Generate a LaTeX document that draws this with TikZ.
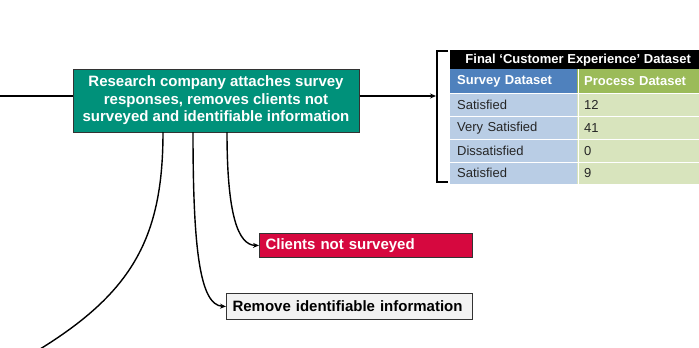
\documentclass[tikz,border=0pt]{standalone}
\usepackage{fontspec}
\setmainfont{Liberation Sans}
\usetikzlibrary{arrows.meta}
\definecolor{tealbox}{HTML}{00917A}
\definecolor{crim}{HTML}{D6083F}
\definecolor{hblue}{HTML}{4F81BD}
\definecolor{hgreen}{HTML}{9BBB59}
\definecolor{lblue}{HTML}{B9CDE5}
\definecolor{lgreen}{HTML}{D8E4BD}
\definecolor{lgray}{HTML}{F2F2F2}
\begin{document}
\begin{tikzpicture}[x=1pt,y=-1pt,
  conn/.style={line width=1.4pt},
  arr/.style={conn,-{Stealth[length=6pt,width=5pt]}},
  mainbox/.style={draw=black!80,line width=1pt,fill=tealbox,text=white,align=center,
    font=\bfseries\fontsize{15}{17.5}\selectfont,inner sep=0pt,
    minimum width=286pt,minimum height=63pt},
  sidebox/.style={draw=black!80,line width=1pt,anchor=north west,inner xsep=6pt,inner ysep=0pt,
    font=\bfseries\fontsize{15}{18}\selectfont,minimum height=25pt,align=left},
  cell/.style={anchor=north west,inner sep=0pt,minimum height=23pt,text width=114pt,
    inner xsep=7pt,align=left,font=\fontsize{13}{15}\selectfont,text=black!85},
]
\clip (0,0) rectangle (699,348);
\useasboundingbox (0,0) rectangle (699,348);

% main box
\node[mainbox] (main) at (216,100.5) {Research company attaches survey\\responses, removes clients not\\surveyed and identifiable information};

% side boxes
\node[sidebox,fill=crim,text=white,minimum height=24pt,text width=201pt] (clients) at (259,233) {Clients not surveyed};
\node[sidebox,fill=lgray,text=black,minimum height=26pt,text width=234pt] (remove) at (226,293) {Remove identifiable information};

% table
\node[anchor=north west,fill=black,text=white,inner sep=0pt,minimum width=256pt,minimum height=19pt,
  font=\bfseries\fontsize{13}{15}\selectfont] (title) at (450,50) {Final ‘Customer Experience’ Dataset};
\node[cell,fill=hblue,text=white,font=\bfseries\fontsize{13}{15}\selectfont,minimum height=24pt] (h1) at (450,69) {Survey Dataset};
\node[cell,fill=hgreen,text=white,font=\bfseries\fontsize{13}{15}\selectfont,minimum height=24pt] (h2) at (577,69) {Process Dataset};
\node[cell,fill=lblue] (a1) at (450,93) {Satisfied};
\node[cell,fill=lgreen] (b1) at (577,93) {12};
\node[cell,fill=lblue] (a2) at (450,116) {Very Satisfied};
\node[cell,fill=lgreen] (b2) at (577,116) {41};
\node[cell,fill=lblue] (a3) at (450,139) {Dissatisfied};
\node[cell,fill=lgreen] (b3) at (577,139) {0};
\node[cell,fill=lblue,minimum height=22pt] (a4) at (450,162) {Satisfied};
\node[cell,fill=lgreen,minimum height=22pt] (b4) at (577,162) {9};
% white grid lines
\draw[white,line width=1pt] (h1.north east) -- (a4.south east);
\foreach \n in {h1,a1,a2,a3}{\draw[white,line width=1pt] (\n.south west) -- (450+256,0 |- \n.south);}

% bracket
\coordinate (brt) at (448,51);
\coordinate (brb) at (448,182);
\draw[conn] (brt) -- (437,51) -- (437,182) -- (brb);
\coordinate (brin) at (436,96);

% connectors
\coordinate (inL) at (0,96);
\draw[conn] (inL) -- (main.west |- inL);
\draw[arr] (main.east |- brin) -- (brin);

\coordinate (s1) at (163,132);
\coordinate (s2) at (193,132);
\coordinate (s3) at (227,132);
\coordinate (offc) at (0,372);
\draw[conn] (s1) .. controls (163,250) and (125,305) .. (offc);
\draw[arr] (s2) .. controls (193,250) and (200,305) .. (remove.west);
\draw[arr] (s3) .. controls (227,215) and (238,245) .. (clients.west);
\end{tikzpicture}
\end{document}
